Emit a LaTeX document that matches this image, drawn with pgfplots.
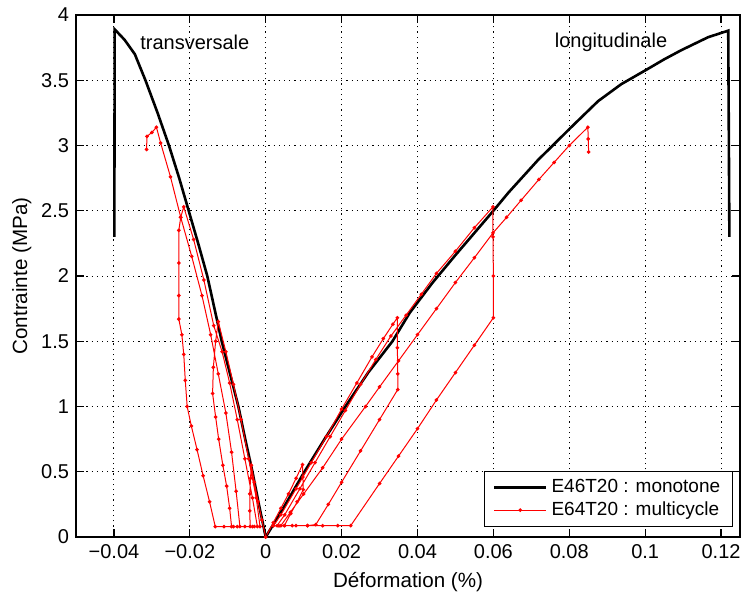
\documentclass[border=0pt]{standalone}
\usepackage{fontspec}
\setmainfont{Liberation Sans}
\usepackage{pgfplots}
\pgfplotsset{compat=1.18}
\pgfplotsset{
  blackleg/.style={legend image code/.code={\draw[##1] (0pt,0pt) -- (26pt,0pt);}},
  redleg/.style={legend image code/.code={\draw[##1,mark repeat=2,mark phase=2] plot coordinates {(0pt,0pt) (13pt,0pt) (26pt,0pt)};}},
}
\begin{document}
\begin{tikzpicture}
\useasboundingbox (-38pt,-27pt) rectangle (333.5pt,268.5pt);
\begin{axis}[
  scale only axis, width=332pt, height=261pt,
  xmin=-0.05, xmax=0.125, ymin=0, ymax=4,
  xtick={-0.04,-0.02,0,0.02,0.04,0.06,0.08,0.1,0.12},
  xticklabels={−0.04,−0.02,0,0.02,0.04,0.06,0.08,0.1,0.12},
  ytick={0,0.5,1,1.5,2,2.5,3,3.5,4},
  yticklabels={0,0.5,1,1.5,2,2.5,3,3.5,4},
  scaled x ticks=false, scaled y ticks=false,
  tick align=inside, major tick length=4pt,
  tick style={black, line width=0.6pt},
  ticklabel style={font=\fontsize{10}{12}\selectfont},
  grid=major,
  major grid style={black, line width=0.45pt, dash pattern=on 0.6pt off 2pt},
  axis line style={line width=0.8pt},
  xlabel={Déformation (\%)}, ylabel={Contrainte (MPa)},
  label style={font=\fontsize{10.3}{12}\selectfont},
  ylabel style={yshift=-2pt},
  legend cell align=left,
  legend style={at={(0.989,0.019)}, anchor=south east, draw=black, line width=0.5pt,
    fill=white, font=\fontsize{9.5}{11}\selectfont, row sep=-1pt, inner xsep=4pt},
]
% black monotone, longitudinal
\addplot[black, line width=1.3pt, blackleg] coordinates {
(0,0) (0.005,0.24) (0.0102,0.50) (0.0155,0.75) (0.021,1.0) (0.027,1.26) (0.0334,1.50)
(0.038,1.72) (0.0440,1.95) (0.050,2.16) (0.055,2.33) (0.060,2.50) (0.064,2.64)
(0.0718,2.89) (0.076,3.01) (0.0805,3.14) (0.0876,3.34) (0.0937,3.47) (0.1003,3.58)
(0.1050,3.66) (0.1095,3.73) (0.1166,3.83) (0.1219,3.88) (0.1222,2.30)
};
\addlegendentry{E46T20 : monotone}
% red multicycle, longitudinal
\addplot[red, line width=0.5pt, mark=*, mark size=0.65pt, mark options={solid}, redleg] coordinates {
(0,0) (0.002,0.11) (0.004,0.22) (0.006,0.33) (0.008,0.45) (0.0097,0.555)
(0.0098,0.46) (0.0099,0.363)
(0.0083,0.27) (0.0066,0.18) (0.0049,0.087)
(0.0035,0.085) (0.002,0.085)
(0.004,0.17) (0.008,0.37) (0.012,0.57) (0.016,0.77) (0.020,0.98) (0.024,1.18) (0.028,1.38) (0.031,1.52) (0.0335,1.63) (0.0347,1.68)
(0.0347,1.45) (0.0348,1.25) (0.0348,1.13)
(0.030,0.90) (0.025,0.66) (0.020,0.42) (0.0165,0.25) (0.0132,0.095)
(0.011,0.087) (0.008,0.087) (0.005,0.087) (0.003,0.087)
(0.005,0.17) (0.009,0.37) (0.013,0.57) (0.017,0.77) (0.021,0.97) (0.025,1.17) (0.029,1.36) (0.033,1.54) (0.037,1.70) (0.041,1.86) (0.045,2.02) (0.050,2.19) (0.055,2.37) (0.0599,2.53)
(0.0599,2.3) (0.060,2.0) (0.060,1.68)
(0.055,1.47) (0.050,1.26) (0.045,1.05) (0.040,0.83) (0.035,0.62) (0.030,0.41) (0.0224,0.087)
(0.019,0.087) (0.015,0.087) (0.011,0.087) (0.007,0.087) (0.004,0.087)
(0.0065,0.19) (0.010,0.33) (0.015,0.53) (0.020,0.75) (0.0263,1.0) (0.030,1.15) (0.035,1.35) (0.040,1.55) (0.045,1.75) (0.050,1.95) (0.055,2.14) (0.0599,2.33) (0.0635,2.45) (0.0673,2.58) (0.072,2.74) (0.076,2.87) (0.080,3.00) (0.0849,3.14)
(0.085,3.05) (0.0851,2.95)
};
\addlegendentry{E64T20 : multicycle}
% black monotone, transversal
\addplot[black, line width=1.3pt, forget plot] coordinates {
(0,0) (-0.0018,0.25) (-0.0035,0.5) (-0.0054,0.75) (-0.0072,1.0) (-0.0094,1.25)
(-0.0116,1.5) (-0.0135,1.75) (-0.0154,2.0) (-0.0178,2.25) (-0.0203,2.5) (-0.0228,2.75)
(-0.0255,3.0) (-0.0285,3.25) (-0.0317,3.5) (-0.0345,3.70) (-0.0372,3.81) (-0.0398,3.89)
(-0.0399,2.30)
};
% red multicycle, transversal
\addplot[red, line width=0.5pt, mark=*, mark size=0.65pt, mark options={solid}, forget plot] coordinates {
(0,0) (-0.001,0.13) (-0.002,0.27) (-0.003,0.42) (-0.0038,0.55)
(-0.0040,0.45) (-0.0042,0.33)
(-0.0042,0.2) (-0.0041,0.08)
(-0.003,0.08) (-0.0015,0.08)
(-0.0025,0.3) (-0.0045,0.6) (-0.0065,0.9) (-0.0085,1.17) (-0.0105,1.42) (-0.0125,1.65)
(-0.0132,1.5) (-0.0138,1.3) (-0.0140,1.10)
(-0.0132,0.92) (-0.0124,0.75) (-0.0113,0.55) (-0.0103,0.39) (-0.0095,0.22) (-0.0090,0.08)
(-0.0075,0.08) (-0.0055,0.08) (-0.0035,0.08) (-0.0022,0.08)
(-0.0035,0.3) (-0.0055,0.6) (-0.0075,0.9) (-0.0095,1.18) (-0.0115,1.42) (-0.0137,1.62) (-0.0163,1.97) (-0.0190,2.28) (-0.0216,2.53)
(-0.0224,2.45) (-0.0229,2.35) (-0.0229,2.1) (-0.0229,1.85) (-0.0229,1.67)
(-0.0221,1.55) (-0.0216,1.40) (-0.0212,1.2) (-0.0207,1.0) (-0.0196,0.85) (-0.0181,0.67) (-0.0165,0.47) (-0.0148,0.27) (-0.0133,0.08)
(-0.011,0.08) (-0.0085,0.08) (-0.0068,0.08)
(-0.0078,0.35) (-0.0090,0.65) (-0.0105,0.95) (-0.0125,1.25) (-0.0145,1.55) (-0.0168,1.85) (-0.0195,2.15) (-0.0224,2.45) (-0.0251,2.76) (-0.0277,3.02) (-0.0288,3.14)
(-0.0300,3.10) (-0.0313,3.07) (-0.0314,2.97)
};
\node[font=\fontsize{10}{12}\selectfont] at (axis cs:-0.0187,3.79) {transversale};
\node[font=\fontsize{10}{12}\selectfont] at (axis cs:0.091,3.79) {longitudinale};
\end{axis}
\end{tikzpicture}
\end{document}
